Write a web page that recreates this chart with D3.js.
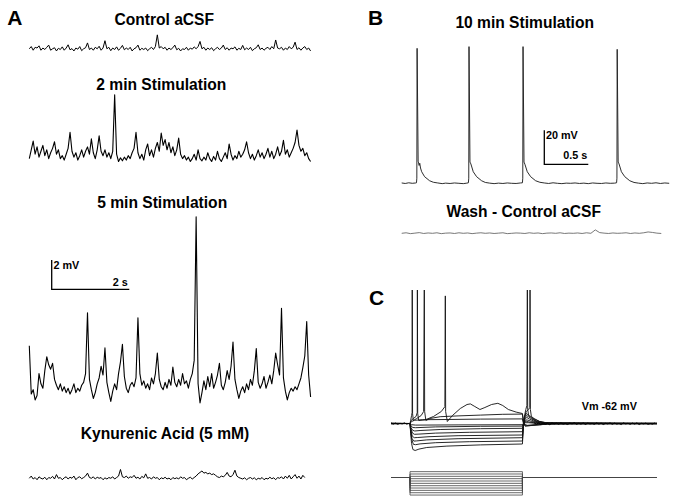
<!DOCTYPE html>
<html><head><meta charset="utf-8">
<script src="https://cdn.jsdelivr.net/npm/d3@7"></script>
<style>
body{margin:0;background:#fff}
svg{display:block}
text{font-family:"Liberation Sans",Arial,Helvetica,sans-serif;font-weight:bold;fill:#000}
</style>
</head><body>
<svg id="fig" width="675" height="501"></svg>
<script>
// ---------- DATA ----------
const panelLabels = ["A", "B", "C"];
const titlesA = ["Control aCSF", "2 min Stimulation", "5 min Stimulation", "Kynurenic Acid (5 mM)"];
const titlesB = ["10 min Stimulation", "Wash - Control aCSF"];
const scaleA = {mV: 2, s: 2, mVLabel: "2 mV", sLabel: "2 s"};
const scaleB = {mV: 20, s: 0.5, mVLabel: "20 mV", sLabel: "0.5 s"};
const vmLabel = "Vm -62 mV";

// Panel A: membrane potential deviation (mV) sampled every 0.05 s
const dtA = 0.05;
const traceControl = [
 0.05,0.2,-0.05,0.15,0.1,0.25,-0.05,0.1,0.0,0.15,
 0.3,-0.05,0.05,0.12,-0.1,0.08,0.0,0.18,-0.05,0.1,
 0.32,-0.02,0.06,-0.1,0.1,0.02,0.2,-0.08,0.05,0.12,
 0.45,0.0,0.1,-0.05,0.15,0.05,0.22,-0.05,0.1,0.6,
 0.05,0.15,-0.08,0.1,0.0,0.18,-0.05,0.08,0.28,-0.02,
 0.1,0.0,0.15,-0.1,0.05,0.12,0.3,-0.05,0.08,0.0,
 0.1,-0.08,0.05,0.15,0.0,0.2,1.0,0.1,0.2,0.05,
 0.15,-0.05,0.1,0.0,0.12,0.3,-0.02,0.08,-0.1,0.05,
 0.0,0.15,-0.05,0.1,0.02,0.18,0.05,0.2,0.55,0.05,
 0.15,-0.05,0.1,0.0,0.12,-0.08,0.05,0.15,0.0,0.1,
 0.3,0.0,0.12,-0.05,0.1,0.05,0.18,-0.05,0.08,0.0,
 0.28,-0.02,0.1,0.0,0.15,-0.08,0.05,0.12,0.32,0.0,
 0.1,-0.05,0.08,0.15,0.0,0.2,0.05,0.65,0.1,0.05,
 0.15,-0.05,0.1,0.0,0.2,0.05,0.15,0.5,0.0,0.12,
 -0.05,0.1,0.2,0.0,0.1,-0.1];
const trace2min = [
 0.3,0.9,1.5,0.6,1.1,0.4,0.8,1.2,0.5,0.9,
 0.3,0.7,1.0,1.45,0.6,0.9,0.3,0.5,0.2,0.6,
 1.0,2.1,0.8,0.4,0.7,0.2,0.5,0.9,0.4,0.8,
 1.1,0.6,1.65,0.7,0.3,0.9,1.85,0.8,0.5,0.9,
 0.4,0.7,0.3,0.8,4.65,0.6,0.1,0.35,0.15,0.4,
 0.2,0.5,0.3,0.7,1.0,2.1,0.7,0.3,0.6,0.2,
 0.9,1.3,0.5,0.9,0.4,1.0,1.4,0.8,2.05,1.2,
 1.6,0.9,1.4,0.7,1.1,0.5,0.9,1.7,0.6,0.3,
 0.5,0.2,0.4,0.1,0.3,0.6,0.2,0.9,0.3,0.15,
 0.4,0.2,0.7,0.3,0.1,0.45,0.2,0.8,0.3,0.1,
 0.4,0.7,0.3,1.3,0.6,0.2,0.5,0.3,0.8,0.4,
 0.6,0.9,1.45,0.7,0.3,0.6,0.2,0.5,0.9,0.4,
 0.7,0.3,0.6,1.0,0.4,0.8,0.3,0.6,1.1,0.5,
 0.8,1.55,0.6,0.9,0.4,0.7,1.0,1.4,2.25,1.2,
 0.8,1.0,0.5,0.7,0.3,0.1];
const trace5min = [
 3.5,0.2,0.5,-0.2,0.1,1.6,0.9,0.6,1.8,2.75,
 2.2,1.9,2.3,1.2,0.8,0.5,0.9,0.4,0.7,0.3,
 0.6,0.2,0.5,0.9,0.3,0.6,0.4,0.8,1.0,1.6,
 5.75,1.2,0.5,-0.1,0.3,0.9,1.3,2.1,1.5,3.35,
 1.0,0.3,-0.3,0.4,0.9,0.5,1.6,2.4,3.6,1.4,
 0.6,0.3,0.8,1.0,0.7,1.3,5.4,1.6,0.8,1.1,
 0.6,0.9,0.5,1.3,0.9,1.6,3.0,1.2,0.7,0.5,
 1.0,0.6,1.2,0.8,2.05,1.0,0.7,1.2,0.8,1.6,
 0.9,1.1,0.6,1.2,1.6,2.5,12.3,0.9,-0.4,0.3,
 1.1,0.5,1.4,0.7,1.6,0.6,1.0,1.5,2.3,0.8,
 0.5,1.0,1.8,1.2,2.1,3.75,1.2,0.5,-0.1,0.4,
 0.7,0.3,0.9,0.5,1.2,0.8,1.8,3.3,1.0,0.6,
 0.9,1.4,0.6,1.0,1.5,0.9,1.8,3.0,2.2,1.5,
 6.05,1.3,0.4,-0.2,0.3,0.6,0.4,0.7,0.5,0.9,
 1.3,2.0,2.8,5.15,1.5,0.0];
const traceKyn = [
 0.05,0.2,0.0,0.1,-0.05,0.15,0.05,0.0,0.12,-0.05,
 0.1,0.05,0.18,0.0,0.3,0.05,0.1,-0.05,0.08,0.15,
 0.0,0.12,0.05,0.2,-0.05,0.1,0.15,0.02,0.1,0.2,
 0.4,0.1,0.05,0.15,0.0,0.12,0.05,0.1,-0.05,0.08,
 0.0,0.1,0.05,0.15,0.0,0.1,0.2,0.65,0.15,0.1,
 0.2,0.05,0.15,0.1,0.25,0.05,0.12,0.0,0.18,0.08,
 0.35,0.05,0.1,0.0,0.15,0.05,0.1,-0.05,0.08,0.02,
 0.12,0.0,0.06,-0.05,0.1,0.02,0.08,0.0,0.15,0.05,
 0.1,-0.05,0.05,0.12,0.0,0.1,0.2,0.35,0.45,0.55,
 0.4,0.45,0.35,0.4,0.3,0.35,0.25,0.15,0.1,0.2,
 0.15,0.25,0.45,0.2,0.15,0.3,0.6,0.2,0.1,0.05,
 0.0,0.08,-0.05,0.05,0.1,0.0,0.08,-0.05,0.05,0.0,
 0.1,-0.05,0.05,0.0,0.12,0.02,0.08,-0.05,0.1,0.05,
 0.15,0.0,0.2,0.05,0.25,0.0,0.15,0.3,0.05,0.2,
 0.0,0.25,0.1];

// Panel B: 10 min stimulation, [time s, deviation mV]
const trace10min = [
 [0,0.2],[0.04,-0.1],[0.08,0.3],[0.12,0.0],[0.16,0.2],
 [0.168,0.3],[0.172,3],[0.175,79.4],[0.187,13],[0.192,12],[0.198,10.5],[0.205,11.8],[0.214,9],[0.227,6.8],[0.26,3.9],[0.317,1.5],[0.36,0.6],[0.41,0.2],[0.46,-0.2],[0.5,0.1],[0.55,-0.1],[0.6,0.2],[0.65,0.0],[0.7,-0.2],[0.74,0.1],
 [0.758,0.3],[0.762,3],[0.765,80.4],[0.776,12.5],[0.786,11.4],[0.813,6.8],[0.851,3.9],[0.908,1.5],[0.95,0.5],[1.0,0.1],[1.05,-0.2],[1.1,0.1],[1.15,-0.1],[1.2,0.2],[1.25,0.0],[1.3,-0.1],[1.35,0.2],
 [1.372,0.3],[1.376,3],[1.379,80.4],[1.39,12.5],[1.4,11.2],[1.427,6.8],[1.465,3.9],[1.522,1.5],[1.57,0.6],[1.62,0.2],[1.67,-0.1],[1.72,0.3],[1.77,0.0],[1.82,-0.2],[1.87,0.1],[1.92,0.0],[1.97,0.2],[2.02,-0.1],[2.07,0.1],[2.12,-0.2],[2.17,0.2],[2.22,0.0],[2.27,-0.1],[2.32,0.2],[2.37,0.0],[2.42,0.1],
 [2.442,0.3],[2.446,3],[2.449,78.8],[2.46,12.5],[2.47,11.4],[2.497,6.8],[2.535,3.9],[2.592,1.5],[2.64,0.5],[2.69,0.1],[2.74,-0.2],[2.79,0.2],[2.84,0.0],[2.89,0.3],[2.94,-0.1],[2.99,0.2],[3.04,0.0]];
// Wash trace, sampled every 0.05 s (mV)
const dtWash = 0.05;
const traceWash = [
 0.0,0.3,-0.2,0.1,0.4,-0.1,0.2,0.0,0.3,-0.2,
 0.1,0.2,-0.1,0.3,0.0,0.2,-0.2,0.1,0.3,0.0,
 0.2,-0.1,0.1,0.3,-0.2,0.0,0.2,0.1,-0.1,0.3,
 0.0,0.2,-0.2,0.1,0.2,0.0,0.3,-0.1,0.1,0.0,
 0.2,-0.1,0.3,0.0,2.0,0.4,0.1,-0.1,0.2,0.0,
 0.1,0.3,-0.1,0.2,0.0,0.3,0.8,0.5,0.1,-0.1];

// Panel C: current steps (pA) and voltage sweeps [time ms, Vm mV]
const cStep = [85, 588];
const cCurrents = [125, 75, 25, -25, -75, -125, -175, -225, -275, -325, -375];
const cSweeps = [
 [[0,-61.9],[85,-62],[88,-60.5],[92,-58],[94.5,-56.5],[95,10],[96.5,-57],[100,-60.5],[115,-59.5],[135,-58],[146,-56],[149,10],[150.5,-56],[156,-60.5],[175,-59.5],[220,-58.6],[300,-58.2],[400,-57.8],[500,-57.4],[588,-57.3],[592,-61],[600,-63.3],[625,-63],[700,-62.3],[800,-62.1],[1190,-62.1]],
 [[0,-62.1],[85,-62],[90,-60.5],[100,-59.5],[112,-58.5],[117.3,-56.5],[118,10],[119.5,-57],[124,-60.5],[152,-60.2],[190,-58.5],[225,-56],[241,-53.6],[243,1.8],[244.5,-56],[252,-61],[275,-58],[310,-54.5],[340,-52.5],[355,-52.2],[375,-53.5],[398,-55],[420,-54],[450,-52.5],[478,-51.9],[500,-53],[525,-55],[560,-56.3],[588,-57],[592,-60.5],[600,-63.2],[630,-63],[700,-62.3],[1190,-61.9]],
 [[0,-62],[85,-62],[92,-61],[105,-60.4],[140,-60.1],[250,-60],[400,-59.8],[588,-59.7],[593,-62.3],[610,-62.9],[650,-62.5],[750,-62.1],[1190,-62]],
 [[0,-61.95],[85,-62],[92,-62.6],[110,-62.8],[300,-62.7],[588,-62.6],[596,-61.6],[615,-61.6],[650,-61.9],[1190,-62]],
 [[0,-62.05],[85,-62],[90,-63.3],[98,-64],[110,-64.1],[200,-63.7],[400,-63.4],[588,-63.3],[594,-61.5],[605,-60.9],[620,-61.3],[650,-61.8],[1190,-62.1]],
 [[0,-62],[85,-62],[89,-64],[97,-65.4],[106,-65.75],[130,-65.5],[220,-65],[400,-64.6],[588,-64.4],[593,-61.8],[602,-60.2],[612,-60.3],[630,-61],[660,-61.7],[1190,-61.9]],
 [[0,-61.95],[85,-62],[89,-64.5],[96,-66.8],[105,-67.4],[125,-67.3],[200,-66.8],[350,-66.4],[588,-66.1],[592,-63],[600,-59.5],[608,-59],[620,-59.8],[640,-60.9],[670,-61.7],[1190,-62]],
 [[0,-62],[85,-62],[88,-65],[95,-68.3],[104,-69.1],[120,-69],[170,-68.6],[300,-68.1],[588,-67.75],[591,-64],[598,-59.5],[606,-58],[615,-58.6],[630,-59.8],[655,-61.2],[700,-61.9],[1190,-61.95]],
 [[0,-62.05],[85,-62],[88,-65.5],[94,-69.5],[102,-70.8],[115,-70.7],[160,-70.2],[300,-69.6],[588,-69.1],[591,-64.5],[597,-59],[604,-57],[612,-57.5],[625,-59],[650,-60.8],[690,-61.8],[1190,-62.05]],
 [[0,-61.9],[85,-62],[88,-66],[93,-70],[100,-72.4],[110,-72.6],[130,-72.2],[200,-71.6],[350,-71.1],[588,-70.75],[591,-65.5],[597,-59],[605,-56],[615,-55],[621,-54],[622,10],[623.5,-55],[628,-58.5],[640,-59.5],[665,-61],[710,-61.9],[1190,-61.9]],
 [[0,-62.1],[85,-62],[88,-67],[92,-72],[98,-75],[108,-75.5],[125,-74.8],[160,-74],[250,-73.3],[400,-72.7],[588,-72.25],[591,-66],[596,-59],[603,-55],[608,-53],[610,10],[611.5,-55],[616,-58],[625,-58.5],[640,-59.8],[665,-61],[700,-61.8],[760,-62.1],[1190,-62.2]]
];
// resting noise (mV) every 10 ms: before the step (from 0 ms) and after (from 640 ms)
const dtRest = 10;
const cRestPre = [-61.7,-62.3,-61.8,-62.4,-61.9,-62.2,-61.7,-62.3,-62.0];
const cRestPost = [
 -61.6,-62.4,-61.8,-62.5,-61.7,-62.3,-61.9,-62.6,-61.7,-62.2,
 -61.8,-62.4,-61.7,-62.3,-62.0,-62.5,-61.8,-62.2,-61.6,-62.4,
 -61.9,-62.3,-61.7,-62.5,-61.8,-62.2,-62.0,-62.4,-61.7,-62.3,
 -61.8,-62.5,-61.9,-62.2,-61.7,-62.4,-61.8,-62.3,-62.0,-62.5,
 -61.7,-62.2,-61.9,-62.4,-61.8,-62.3,-61.7,-62.5,-61.9,-62.2,
 -61.8,-62.4,-62.0,-62.3,-61.7];

// ---------- DRAW ----------
const svg = d3.select("#fig");
svg.append("rect").attr("width",675).attr("height",501).attr("fill","#fff");

const FONT_T = 15.6, FONT_S = 10.8, FONT_L = 21;

// panel labels
[[7.3,25],[368,25],[369,305]].forEach((p,i)=>{
  svg.append("text").attr("x",p[0]).attr("y",p[1]).attr("font-size",FONT_L).text(panelLabels[i]);
});

// ---- Panel A ----
const xA = d3.scaleLinear().domain([0, 7.25]).range([29.3, 310.6]);
const pxPerMvA = 14.65;
const basesA = [49.5, 163, 397, 479];
const tracesA = [traceControl, trace2min, trace5min, traceKyn];
const widthsA = [1.0, 1.1, 1.1, 1.0];
const titlePosA = [[164.2,25],[161.3,90],[162.2,208.3],[165,439.3]];
tracesA.forEach((tr,k)=>{
  const y = d3.scaleLinear().domain([0,1]).range([basesA[k], basesA[k]-pxPerMvA]);
  const line = d3.line().x(d=>xA(d[0])).y(d=>y(d[1]));
  svg.append("path").datum(tr.map((v,i)=>[i*dtA, v]))
    .attr("d", line).attr("fill","none").attr("stroke","#000")
    .attr("stroke-width",widthsA[k]).attr("stroke-linejoin","round");
  svg.append("text").attr("x",titlePosA[k][0]).attr("y",titlePosA[k][1])
    .attr("text-anchor","middle").attr("font-size",FONT_T).text(titlesA[k]);
});
// scale bar A
{
  const x0 = 51.7, y0 = 289.3;
  const h = scaleA.mV*pxPerMvA, w = xA(scaleA.s)-xA(0);
  svg.append("path").attr("d",`M${x0},${y0-h}V${y0}H${x0+w}`)
    .attr("fill","none").attr("stroke","#000").attr("stroke-width",1.3);
  svg.append("text").attr("x",x0+1.8).attr("y",y0-h+8.5).attr("font-size",FONT_S).text(scaleA.mVLabel);
  svg.append("text").attr("x",x0+w-1.5).attr("y",y0-3.3).attr("text-anchor","end").attr("font-size",FONT_S).text(scaleA.sLabel);
}

// ---- Panel B ----
const xB = d3.scaleLinear().domain([0, 3.04]).range([401.7, 669.2]);
const pxPerMvB = 1.7;
const yB1 = d3.scaleLinear().domain([0,1]).range([183.3, 183.3-pxPerMvB]);
const yB2 = d3.scaleLinear().domain([0,1]).range([233.3, 233.3-pxPerMvB]);
svg.append("path").datum(trace10min)
  .attr("d", d3.line().x(d=>xB(d[0])).y(d=>yB1(d[1])))
  .attr("fill","none").attr("stroke","#222").attr("stroke-width",0.95);
svg.append("path").datum(traceWash.map((v,i)=>[i*dtWash, v]))
  .attr("d", d3.line().x(d=>xB(d[0])).y(d=>yB2(d[1])))
  .attr("fill","none").attr("stroke","#555").attr("stroke-width",0.8);
svg.append("text").attr("x",524.7).attr("y",28.3).attr("text-anchor","middle").attr("font-size",FONT_T).text(titlesB[0]);
svg.append("text").attr("x",523.8).attr("y",216.7).attr("text-anchor","middle").attr("font-size",FONT_T).text(titlesB[1]);
{
  const x0 = 544.3, y0 = 164.3;
  const h = scaleB.mV*pxPerMvB, w = xB(scaleB.s)-xB(0);
  svg.append("path").attr("d",`M${x0},${y0-h}V${y0}H${x0+w}`)
    .attr("fill","none").attr("stroke","#000").attr("stroke-width",1.3);
  svg.append("text").attr("x",x0+1.6).attr("y",y0-h+8.3).attr("font-size",FONT_S).text(scaleB.mVLabel);
  svg.append("text").attr("x",x0+w-1).attr("y",y0-5).attr("text-anchor","end").attr("font-size",FONT_S).text(scaleB.sLabel);
}

// ---- Panel C ----
const xC = d3.scaleLinear().domain([0, 1190]).range([391, 657]);
const yC = d3.scaleLinear().domain([-62, -61]).range([423.5, 421.5]);
svg.append("defs").append("clipPath").attr("id","clipC")
  .append("rect").attr("x",380).attr("y",290).attr("width",295).attr("height",170);
const gC = svg.append("g").attr("clip-path","url(#clipC)");
const lineC = d3.line().x(d=>xC(d[0])).y(d=>yC(d[1]));
gC.selectAll("path.sw").data(cSweeps).join("path").attr("class","sw")
  .attr("d", lineC).attr("fill","none").attr("stroke","#111")
  .attr("stroke-width",0.9).attr("stroke-linejoin","round");
gC.append("path").datum(cRestPre.map((v,i)=>[i*dtRest, v]))
  .attr("d", lineC).attr("fill","none").attr("stroke","#000").attr("stroke-width",1);
gC.append("path").datum(cRestPost.map((v,i)=>[640+i*dtRest, v]))
  .attr("d", lineC).attr("fill","none").attr("stroke","#000").attr("stroke-width",1);
svg.append("text").attr("x",581.7).attr("y",410).attr("font-size",FONT_S).text(vmLabel);

// current protocol
const yI = d3.scaleLinear().domain([0, -50]).range([477.5, 479.84]);
const protoLine = d3.line().x(d=>xC(d[0])).y(d=>yI(d[1]));
svg.selectAll("path.pr").data(cCurrents).join("path").attr("class","pr")
  .attr("d", I => protoLine([[0,0],[cStep[0],0],[cStep[0],I],[cStep[1],I],[cStep[1],0],[1190,0]]))
  .attr("fill","none").attr("stroke","#444").attr("stroke-width",0.8);
</script>
</body></html>
